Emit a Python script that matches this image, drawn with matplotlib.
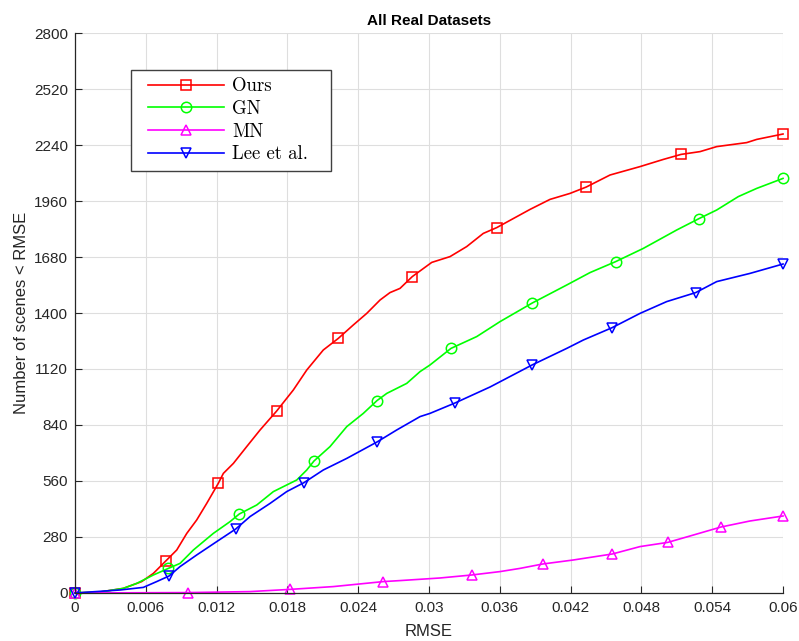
"""Cumulative RMSE curves over all real datasets."""

import numpy as np
import matplotlib
matplotlib.use("Agg")
import matplotlib.pyplot as plt
from matplotlib.font_manager import FontProperties
from matplotlib.legend_handler import HandlerLine2D

# cumulative number of scenes below each RMSE threshold
ours_rmse = [0.0, 0.00212, 0.00409, 0.00565, 0.00664, 0.00769, 0.00862, 0.00947, 0.01031,
             0.01116, 0.01214, 0.01257, 0.01342, 0.01455, 0.01568, 0.01709, 0.01850,
             0.01964, 0.02104, 0.02231, 0.02358, 0.02472, 0.02585, 0.02669, 0.02754,
             0.02858, 0.03023, 0.03178, 0.03319, 0.03460, 0.03574, 0.03856, 0.04025,
             0.04195, 0.04333, 0.04534, 0.04788, 0.04986, 0.05136, 0.05297, 0.05438,
             0.05692, 0.05777, 0.06]
ours_count = [0, 5, 23, 57, 98, 160, 215, 298, 365, 448, 548, 598, 648, 732, 815, 910,
              1015, 1115, 1215, 1273, 1340, 1398, 1465, 1502, 1523, 1582, 1653, 1682,
              1732, 1798, 1827, 1918, 1968, 1998, 2030, 2090, 2132, 2168, 2193, 2207,
              2232, 2252, 2268, 2295]
ours_marks = [0, 5, 10, 15, 19, 25, 30, 34, 38, 43]

gn_rmse = [0.0, 0.00212, 0.00409, 0.00523, 0.00664, 0.00791, 0.00890, 0.01003, 0.01172,
           0.01314, 0.01392, 0.01540, 0.01681, 0.01879, 0.01964, 0.02025, 0.02161,
           0.02303, 0.02443, 0.02559, 0.02642, 0.02811, 0.02924, 0.03008, 0.03186,
           0.03404, 0.03602, 0.03875, 0.04167, 0.04364, 0.04582, 0.04816, 0.05099,
           0.05288, 0.05438, 0.05621, 0.05777, 0.06]
gn_count = [0, 5, 23, 48, 90, 123, 148, 215, 298, 357, 395, 440, 507, 565, 615, 660,
            732, 832, 898, 962, 998, 1048, 1107, 1140, 1223, 1282, 1357, 1450, 1540,
            1602, 1657, 1723, 1815, 1872, 1915, 1982, 2023, 2073]
gn_marks = [0, 5, 10, 15, 19, 24, 27, 30, 33, 37]

mn_rmse = [0.0, 0.0096, 0.01483, 0.01822, 0.02189, 0.02613, 0.02754, 0.03093, 0.03362,
           0.03602, 0.03771, 0.03964, 0.04223, 0.04553, 0.04788, 0.05023, 0.05212,
           0.05475, 0.05720, 0.06]
mn_count = [0, 2, 7, 18, 32, 57, 62, 75, 90, 107, 123, 145, 165, 195, 232, 253, 285,
            330, 360, 385]
mn_marks = [0, 1, 3, 5, 8, 11, 13, 15, 17, 19]

lee_rmse = [0.0, 0.00381, 0.00579, 0.00692, 0.00797, 0.00890, 0.01031, 0.01201, 0.01362,
            0.01483, 0.01653, 0.01794, 0.01941, 0.02104, 0.02303, 0.02559, 0.02726,
            0.02924, 0.03008, 0.03220, 0.03517, 0.03873, 0.04167, 0.04308, 0.04553,
            0.04788, 0.05014, 0.05260, 0.05438, 0.05720, 0.06]
lee_count = [0, 15, 28, 57, 85, 132, 190, 257, 320, 382, 448, 507, 552, 615, 673, 755,
             815, 882, 898, 950, 1030, 1140, 1223, 1265, 1327, 1398, 1457, 1502, 1557,
             1598, 1645]
lee_marks = [0, 4, 8, 12, 15, 19, 21, 24, 27, 30]

x_ticks = np.arange(0, 0.0601, 0.006)
y_ticks = np.arange(0, 2801, 280)

plt.rcParams["font.family"] = ["Liberation Sans", "DejaVu Sans"]
ink = "#262626"

fig = plt.figure(figsize=(7.99, 6.41), dpi=100)
ax = fig.add_axes([0.0939, 0.0749, 0.8861, 0.8736])

series = [
    (ours_rmse, ours_count, ours_marks, "#ff0000", "s", "Ours"),
    (gn_rmse, gn_count, gn_marks, "#00ff00", "o", "GN"),
    (mn_rmse, mn_count, mn_marks, "#ff00ff", "^", "MN"),
    (lee_rmse, lee_count, lee_marks, "#0000ff", "v", "Lee et al."),
]
for xs, ys, marks, color, marker, label in series:
    ax.plot(xs, ys, color=color, lw=1.2, marker=marker, markevery=marks,
            markersize=7.5, markerfacecolor="none", markeredgecolor=color,
            markeredgewidth=1.1, label=label, clip_on=False)

ax.set_xlim(0, 0.06)
ax.set_ylim(0, 2800)
ax.set_xticks(x_ticks)
ax.set_xticklabels([f"{v:g}" for v in np.round(x_ticks, 3)])
ax.set_yticks(y_ticks)
ax.grid(True, color="#dedede", lw=0.8)
ax.set_axisbelow(True)
for side in ("top", "right"):
    ax.spines[side].set_visible(False)
for side in ("left", "bottom"):
    ax.spines[side].set_color(ink)
    ax.spines[side].set_linewidth(0.9)
ax.tick_params(direction="in", length=5, width=0.8, colors=ink, labelsize=11)
ax.tick_params(axis="y", pad=5)
ax.tick_params(axis="x", pad=6)

ax.set_xlabel("RMSE", fontsize=12, color=ink, labelpad=6)
ax.set_ylabel("Number of scenes < RMSE", fontsize=12, color=ink, labelpad=4)
ax.set_title("All Real Datasets", fontsize=11, fontweight="bold", color="black",
             pad=6)

# legend box spans a fixed width; handles are inset from the left edge
line_handler = HandlerLine2D(numpoints=1, xpad=0.5)
leg = ax.legend(loc="upper left", bbox_to_anchor=(0.079, 0.5, 0.2825, 0.434),
                mode="expand", borderaxespad=0,
                prop=FontProperties(family="cmr10", size=13.5),
                handler_map={plt.Line2D: line_handler},
                handlelength=4.55, labelspacing=0.25, borderpad=0.4,
                handletextpad=0.45, fancybox=False, framealpha=1, edgecolor="#404040")
leg.get_frame().set_linewidth(1.0)

fig.savefig("out.png", dpi=100)
